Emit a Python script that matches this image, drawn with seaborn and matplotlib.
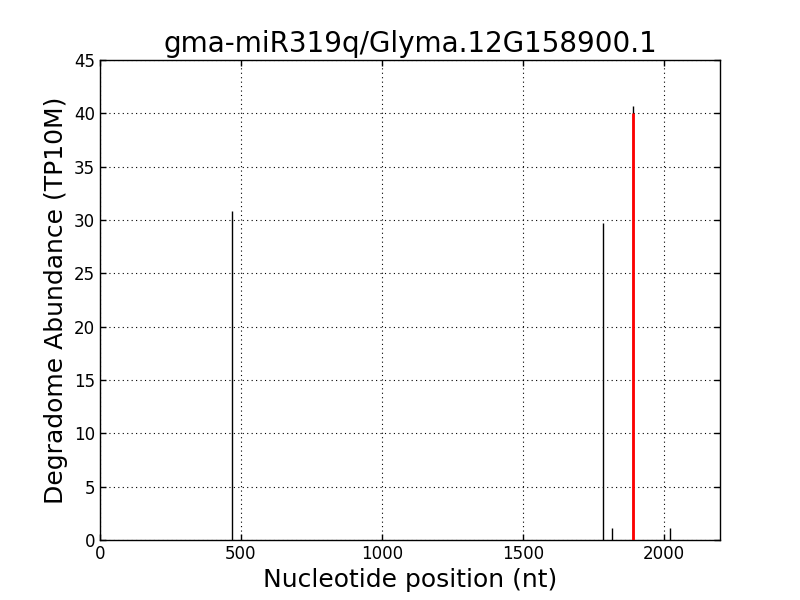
import matplotlib
matplotlib.use("Agg")
import matplotlib.pyplot as plt
import seaborn as sns
import pandas as pd

positions = [470, 1785, 1817, 1891, 2023]
abundance = [30.8, 29.7, 1.1, 40.7, 1.1]
target_position = [1891]
target_abundance = [40.0]

sns.set_style("white", {
    "axes.edgecolor": "black",
    "axes.labelcolor": "black",
    "text.color": "black",
    "xtick.color": "black",
    "ytick.color": "black",
    "xtick.direction": "in",
    "ytick.direction": "in",
    "xtick.top": True,
    "ytick.right": True,
    "xtick.bottom": True,
    "ytick.left": True,
})
plt.rcParams['font.family'] = ['DejaVu Sans']

fig, ax = plt.subplots(figsize=(8, 6), dpi=100)
fig.subplots_adjust(left=0.125, right=0.9, bottom=0.1, top=0.9)

df = pd.DataFrame({"pos": positions, "ab": abundance})
ax.vlines(df["pos"], 0, df["ab"], colors="black", linewidth=1.0, zorder=3)
ax.vlines(target_position, 0, target_abundance, colors="red", linewidth=2.0, zorder=4)

ax.set_xlim(0, 2200)
ax.set_ylim(0, 45)
ax.set_xticks([0, 500, 1000, 1500, 2000])
ax.set_yticks(range(0, 50, 5))
ax.grid(True, color="black", linestyle=(0, (1, 3)), linewidth=0.8)
ax.set_axisbelow(True)
ax.tick_params(axis="both", which="major", labelsize=12, length=4, width=1, color="black",
               labelcolor="black", direction="in", top=True, right=True)
for s in ax.spines.values():
    s.set_linewidth(1.0)
    s.set_color("black")

ax.set_title("gma-miR319q/Glyma.12G158900.1", fontsize=20, color="black")
ax.set_xlabel("Nucleotide position (nt)", fontsize=18, color="black")
ax.set_ylabel("Degradome Abundance (TP10M)", fontsize=18, color="black")

fig.savefig("out.png", dpi=100)
